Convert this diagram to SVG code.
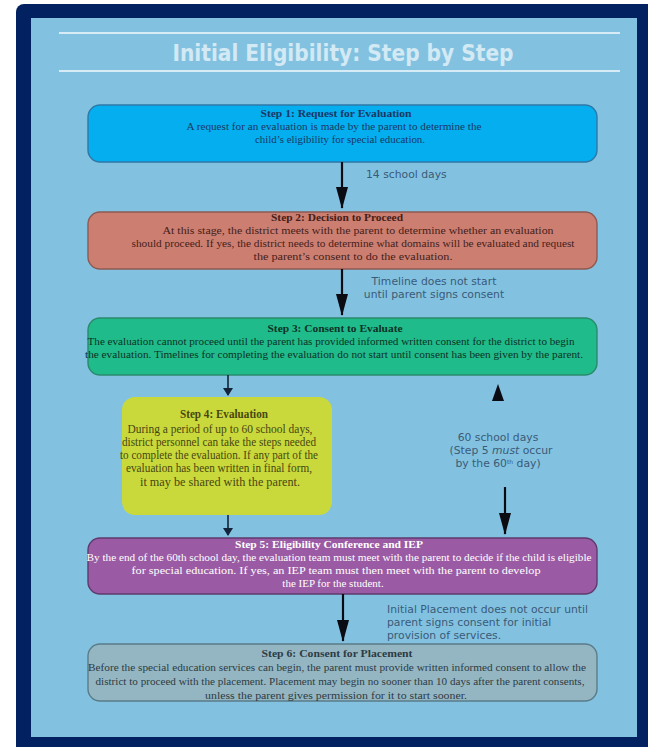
<svg xmlns="http://www.w3.org/2000/svg" width="648" height="747" viewBox="0 0 648 747">
<style>
.t{font-family:"Liberation Serif","DejaVu Serif",serif;font-size:11px;text-anchor:middle}
.s4{font-size:11.5px}
.b{font-weight:bold}
.lbl{font-family:"DejaVu Sans","Liberation Sans",sans-serif;font-size:10.8px;fill:#3b5a78}
.box{stroke-width:1.4}
.big{stroke:#0b0b14;stroke-width:2.2;fill:none;marker-end:url(#head)}
.small{stroke:#13233a;stroke-width:1.6;fill:none;marker-end:url(#shead)}
</style>
<defs>
<marker id="head" markerUnits="userSpaceOnUse" markerWidth="22" markerHeight="12" viewBox="0 0 22 12" refX="21" refY="6" orient="auto">
<path d="M0,0 L22,6 L0,12 z" fill="#0b0b14"/>
</marker>
<marker id="shead" markerUnits="userSpaceOnUse" markerWidth="8" markerHeight="10" viewBox="0 0 8 10" refX="7" refY="5" orient="auto">
<path d="M0,0 L8,5 L0,10 z" fill="#13233a"/>
</marker>
</defs>
<rect x="16" y="4" width="660" height="760" rx="8" fill="#012160"/>
<rect x="31" y="18" width="606" height="719" fill="#82c2e0"/>
<g id="title">
<line x1="59" y1="33" x2="620" y2="33" stroke="#d5ebf6" stroke-width="2.2"/>
<line x1="59" y1="71" x2="620" y2="71" stroke="#d5ebf6" stroke-width="2.2"/>
<text x="343" y="61" text-anchor="middle" font-family="'DejaVu Sans Condensed','DejaVu Sans',sans-serif" font-weight="bold" font-size="23" fill="#d3e9f4" textLength="341" lengthAdjust="spacingAndGlyphs">Initial Eligibility: Step by Step</text>
</g>
<g id="node-step1">
<rect class="box" x="88" y="105" width="509" height="57" rx="12" fill="#04aeef" stroke="#2e78a8"/>
<text class="t b" x="336" y="117" fill="#1a3763" textLength="151" lengthAdjust="spacingAndGlyphs">Step 1: Request for Evaluation</text>
<text class="t" x="334" y="130" fill="#1a3763" textLength="295" lengthAdjust="spacingAndGlyphs">A request for an evaluation is made by the parent to determine the</text>
<text class="t" x="340" y="143" fill="#1a3763" textLength="170" lengthAdjust="spacingAndGlyphs">child’s eligibility for special education.</text>
</g>
<g id="node-step2">
<rect class="box" x="88" y="212" width="509" height="57" rx="12" fill="#cc7f71" stroke="#8d5a52"/>
<text class="t b" x="337" y="221" fill="#45201a" textLength="132" lengthAdjust="spacingAndGlyphs">Step 2: Decision to Proceed</text>
<text class="t" x="358" y="234" fill="#45201a" textLength="391" lengthAdjust="spacingAndGlyphs">At this stage, the district meets with the parent to determine whether an evaluation</text>
<text class="t" x="353" y="247" fill="#45201a" textLength="443" lengthAdjust="spacingAndGlyphs">should proceed.  If yes, the district needs to determine what domains will be evaluated and request</text>
<text class="t" x="353" y="260" fill="#45201a" textLength="199" lengthAdjust="spacingAndGlyphs">the parent’s consent to do the evaluation.</text>
</g>
<g id="node-step3">
<rect class="box" x="88" y="318" width="509" height="57" rx="12" fill="#20bb8b" stroke="#2a8a6c"/>
<text class="t b" x="335" y="332" fill="#0c3226" textLength="135" lengthAdjust="spacingAndGlyphs">Step 3: Consent to Evaluate</text>
<text class="t" x="331" y="345" fill="#0c3226" textLength="487" lengthAdjust="spacingAndGlyphs">The evaluation cannot proceed until the parent has provided informed written consent for the district to begin</text>
<text class="t" x="334" y="358" fill="#0c3226" textLength="498" lengthAdjust="spacingAndGlyphs">the evaluation.  Timelines for completing the evaluation do not start until consent has been given by the parent.</text>
</g>
<g id="node-step4">
<rect x="122" y="397" width="210" height="118" rx="13" fill="#c9d93c"/>
<text class="t s4 b" x="224" y="418" fill="#48460f" textLength="88" lengthAdjust="spacingAndGlyphs">Step 4: Evaluation</text>
<text class="t s4" x="220" y="433" fill="#48460f" textLength="185" lengthAdjust="spacingAndGlyphs">During a period of up to 60 school days,</text>
<text class="t s4" x="219" y="446" fill="#48460f" textLength="194" lengthAdjust="spacingAndGlyphs">district personnel can take the steps needed</text>
<text class="t s4" x="219" y="459" fill="#48460f" textLength="198" lengthAdjust="spacingAndGlyphs">to complete the evaluation.  If any part of the</text>
<text class="t s4" x="219" y="472" fill="#48460f" textLength="186" lengthAdjust="spacingAndGlyphs">evaluation has been written in final form,</text>
<text class="t s4" x="220" y="486" fill="#48460f" textLength="160" lengthAdjust="spacingAndGlyphs">it may be shared with the parent.</text>
</g>
<g id="node-step5">
<rect class="box" x="88" y="538" width="509" height="56" rx="12" fill="#9a5ba4" stroke="#5f3a6c"/>
<text class="t b" x="329" y="548" fill="#ffffff" textLength="188" lengthAdjust="spacingAndGlyphs">Step 5: Eligibility Conference and IEP</text>
<text class="t" x="339" y="561" fill="#ffffff" textLength="505" lengthAdjust="spacingAndGlyphs">By the end of the 60th school day, the evaluation team must meet with the parent to decide if the child is eligible</text>
<text class="t" x="336" y="574" fill="#ffffff" textLength="409" lengthAdjust="spacingAndGlyphs">for special education. If yes, an IEP team must then meet with the parent to develop</text>
<text class="t" x="333" y="587" fill="#ffffff">the IEP for the student.</text>
</g>
<g id="node-step6">
<rect class="box" x="88" y="644" width="509" height="57" rx="12" fill="#94b6c2" stroke="#5a7c89"/>
<text class="t b" x="337" y="657" fill="#2e3b42" textLength="151" lengthAdjust="spacingAndGlyphs">Step 6: Consent for Placement</text>
<text class="t" x="337" y="671" fill="#2e3b42" textLength="498" lengthAdjust="spacingAndGlyphs">Before the special education services can begin, the parent must provide written informed consent to allow the</text>
<text class="t" x="340" y="685" fill="#2e3b42" textLength="489" lengthAdjust="spacingAndGlyphs">district to proceed with the placement.  Placement may begin no sooner than 10 days after the parent consents,</text>
<text class="t" x="336" y="699" fill="#2e3b42" textLength="262" lengthAdjust="spacingAndGlyphs">unless the parent gives permission for it to start sooner.</text>
</g>
<g id="connectors">
<line class="big" x1="342" y1="162" x2="342" y2="208"/>
<line class="big" x1="342" y1="269" x2="342" y2="315"/>
<line class="small" x1="228" y1="375" x2="228" y2="395"/>
<line class="small" x1="228" y1="515" x2="228" y2="535"/>
<polygon points="498,384 504,401 492,401" fill="#0b0b14"/>
<line class="big" x1="505" y1="487" x2="505" y2="534"/>
<line class="big" x1="343" y1="594" x2="343" y2="641"/>
<text class="lbl" x="366" y="178">14 school days</text>
<text class="lbl" x="434" y="285" text-anchor="middle">Timeline does not start</text>
<text class="lbl" x="434" y="298" text-anchor="middle">until parent signs consent</text>
<text class="lbl" x="498" y="441" text-anchor="middle">60 school days</text>
<text class="lbl" x="501" y="454" text-anchor="middle">(Step 5 <tspan font-style="italic">must</tspan> occur</text>
<text class="lbl" x="498" y="467" text-anchor="middle">by the 60<tspan font-size="6" baseline-shift="super">th</tspan>  day)</text>
<text class="lbl" x="387" y="613">Initial Placement does not occur until</text>
<text class="lbl" x="387" y="626">parent signs consent for initial</text>
<text class="lbl" x="387" y="639">provision of services.</text>
</g>
</svg>
